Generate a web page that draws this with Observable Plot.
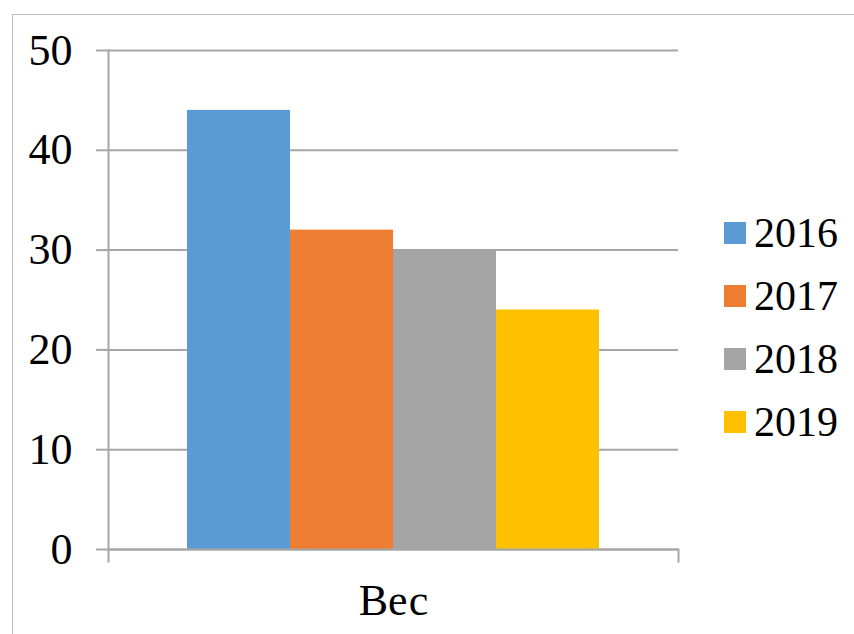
<!DOCTYPE html>
<html>
<head>
<meta charset="utf-8">
<script src="https://cdn.jsdelivr.net/npm/d3@7"></script>
<script src="https://cdn.jsdelivr.net/npm/@observablehq/plot@0.6"></script>
<style>
  body { margin: 0; background: #fff; }
  #wrap { position: relative; width: 854px; height: 634px; overflow: hidden; background: #fff; }
  #border { position: absolute; left: 12px; top: 14px; width: 900px; height: 700px;
            border-left: 1px solid #bfbfbf; border-top: 1px solid #bfbfbf; }
  #chart { position: absolute; left: 0; top: 0; }
  #legend { position: absolute; left: 724px; top: 201px; }
  .leg-swatches { margin: 0 !important; min-height: 0 !important; columns: 1 !important; }
  .leg-swatch { display: flex !important; align-items: center; height: 63px; padding: 0 !important; }
  .leg-swatch > svg { margin-right: 8px !important; flex-shrink: 0; }
</style>
</head>
<body>
<div id="wrap">
  <div id="border"></div>
  <div id="chart"></div>
  <div id="legend"></div>
</div>
<script>
// Category, series and values
const categories = ["Вес"];
const years = ["2016", "2017", "2018", "2019"];
const values = [44, 32, 30, 24];
const colors = ["#5b9bd5", "#ed7d31", "#a5a5a5", "#ffc000"];
const yTicks = [0, 10, 20, 30, 40, 50];

const data = years.map((year, i) => ({category: categories[0], year, value: values[i]}));

const font = "'Liberation Serif', 'Times New Roman', serif";
const lineColor = "#a6a6a6";

const chart = Plot.plot({
  width: 854,
  height: 634,
  marginLeft: 108,
  marginRight: 176,
  marginTop: 50,
  marginBottom: 85,
  style: {fontFamily: font, fontSize: "44px", color: "#000", background: "transparent", overflow: "visible"},
  fx: {domain: categories, padding: 0, label: null},
  x: {domain: years, paddingInner: 0, paddingOuter: 0.747, axis: null},
  y: {domain: [0, 50], label: null},
  color: {domain: years, range: colors},
  marks: [
    Plot.gridY(yTicks, {stroke: lineColor, strokeOpacity: 1, strokeWidth: 2}),
    Plot.barY(data, {fx: "category", x: "year", y: "value", fill: "year"}),
    Plot.ruleY([0], {stroke: lineColor, strokeWidth: 2}),
    Plot.axisY(yTicks, {tickSize: 12, tickPadding: 24, stroke: lineColor, strokeWidth: 2, strokeOpacity: 1, label: null, fontSize: 44}),
    Plot.axisFx({anchor: "bottom", tickSize: 0, tickPadding: 34, label: null, fontSize: 44}),
    // value axis line, continuing as the left category tick
    Plot.frame({anchor: "left", insetBottom: -12, stroke: lineColor, strokeWidth: 2}),
    // right category tick below the base line
    Plot.frame({anchor: "right", insetTop: 499, insetBottom: -12, stroke: lineColor, strokeWidth: 2})
  ]
});
document.getElementById("chart").appendChild(chart);

const legend = Plot.legend({
  color: {domain: years, range: colors},
  legend: "swatches",
  columns: 1,
  swatchSize: 22,
  className: "leg",
  style: {fontFamily: font, fontSize: "42px", color: "#000"}
});
document.getElementById("legend").appendChild(legend);
</script>
</body>
</html>
